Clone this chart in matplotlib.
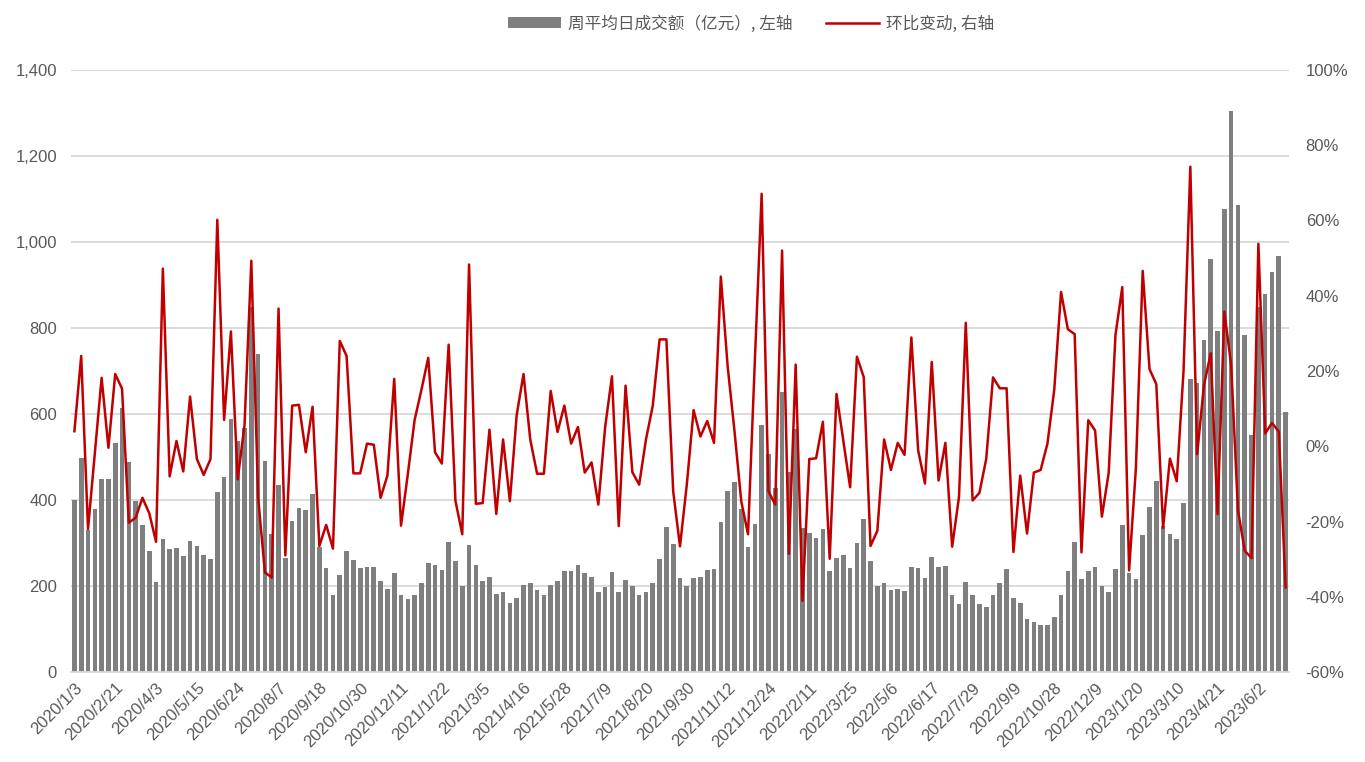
import numpy as np
import matplotlib
matplotlib.use("Agg")
import matplotlib.pyplot as plt
from matplotlib.patches import Patch
from matplotlib.lines import Line2D

plt.rcParams['font.family'] = ['Liberation Sans', 'Noto Sans CJK SC', 'DejaVu Sans']

# Weekly average daily turnover (100 million yuan), left axis
volume = [
    401, 497, 330, 379, 448, 448, 533, 613, 489, 397,
    342, 281, 210, 309, 287, 288, 270, 304, 292, 273,
    263, 419, 453, 588, 538, 568, 848, 740, 491, 321,
    436, 265, 352, 381, 376, 415, 290, 242, 178, 226,
    282, 261, 242, 244, 244, 211, 194, 230, 179, 169,
    180, 206, 254, 249, 237, 303, 259, 199, 295, 249,
    212, 222, 182, 187, 160, 171, 203, 206, 191, 178,
    203, 212, 234, 234, 249, 231, 222, 187, 198, 233,
    185, 215, 200, 179, 185, 206, 263, 338, 298, 219,
    199, 218, 222, 237, 240, 348, 422, 443, 379, 291,
    344, 574, 507, 427, 651, 465, 566, 336, 324, 312,
    332, 234, 266, 273, 242, 300, 355, 258, 200, 206,
    191, 193, 189, 244, 241, 219, 267, 244, 246, 179,
    157, 210, 179, 157, 152, 179, 208, 240, 173, 160,
    123, 116, 109, 109, 127, 178, 234, 302, 217, 234,
    245, 199, 185, 240, 341, 230, 217, 319, 384, 445,
    339, 320, 310, 393, 682, 671, 772, 961, 793, 1077,
    1304, 1086, 783, 551, 848, 878, 930, 967, 605,
]

# Week-on-week change (%), right axis
change = [
    4.0, 24.0, -22.0, -2.0, 18.2, -0.4, 19.2, 15.3, -20.3, -19.0,
    -13.7, -17.8, -25.4, 47.2, -8.0, 1.4, -6.7, 13.2, -3.4, -7.6,
    -3.4, 60.2, 7.0, 30.5, -8.8, 5.6, 49.3, -13.7, -33.5, -34.9,
    36.6, -29.0, 10.8, 11.0, -1.6, 10.5, -26.5, -20.9, -27.2, 28.0,
    24.0, -7.2, -7.2, 0.7, 0.4, -13.7, -7.8, 17.9, -21.1, -7.4,
    7.0, 15.0, 23.5, -1.6, -4.6, 27.0, -14.5, -23.4, 48.3, -15.3,
    -15.1, 4.4, -18.0, 1.8, -14.6, 8.3, 19.2, 1.7, -7.3, -7.3,
    14.7, 3.8, 10.8, 0.7, 5.1, -7.0, -4.3, -15.5, 5.1, 18.6,
    -21.2, 16.1, -6.9, -10.2, 1.8, 10.8, 28.4, 28.4, -12.0, -26.6,
    -10.2, 9.6, 2.6, 6.7, 0.9, 45.1, 21.3, 4.2, -14.6, -23.4,
    22.7, 67.1, -12.0, -15.5, 52.0, -28.6, 21.7, -41.1, -3.4, -3.2,
    6.5, -29.9, 13.9, 1.5, -10.9, 23.8, 18.4, -26.5, -22.5, 1.8,
    -6.3, 0.9, -2.3, 28.9, -1.1, -9.9, 22.4, -9.1, 0.9, -26.7,
    -13.5, 32.8, -14.4, -12.4, -3.4, 18.3, 15.4, 15.4, -28.1, -7.8,
    -23.2, -7.0, -6.3, 0.7, 15.0, 41.0, 31.1, 29.8, -28.2, 6.9,
    4.2, -18.7, -7.1, 29.6, 42.3, -33.0, -5.8, 46.6, 20.5, 16.5,
    -21.7, -3.3, -9.3, 20.0, 74.3, -2.1, 16.2, 24.7, -18.0, 35.8,
    21.6, -17.0, -27.8, -29.7, 53.8, 3.4, 6.2, 3.9, -37.5,
]

tick_labels = [
    '2020/1/3', '2020/2/21', '2020/4/3', '2020/5/15', '2020/6/24', '2020/8/7',
    '2020/9/18', '2020/10/30', '2020/12/11', '2021/1/22', '2021/3/5', '2021/4/16',
    '2021/5/28', '2021/7/9', '2021/8/20', '2021/9/30', '2021/11/12', '2021/12/24',
    '2022/2/11', '2022/3/25', '2022/5/6', '2022/6/17', '2022/7/29', '2022/9/9',
    '2022/10/28', '2022/12/9', '2023/1/20', '2023/3/10', '2023/4/21', '2023/6/2',
]
tick_step = 6

x = np.arange(len(volume))
gray_txt = '#595959'

fig = plt.figure(figsize=(13.65, 7.62), dpi=100)
ax = fig.add_axes([71/1365, 1-672/762, (1289-71)/1365, (672-70)/762])
ax2 = ax.twinx()

ax.bar(x, volume, width=0.68, color='#7f7f7f', zorder=2)
ax.set_xlim(-0.5, len(volume) - 0.5)
ax.set_ylim(0, 1400)
ax.set_yticks(np.arange(0, 1401, 200))
ax.set_yticklabels([f'{v:,}' for v in range(0, 1401, 200)])
ax.yaxis.grid(True, color='#d9d9d9', linewidth=1.3, zorder=0)
ax.set_axisbelow(True)

ax2.plot(x, change, color='#c00000', linewidth=1.8, zorder=3)
ax2.set_ylim(-60, 100)
ax2.set_yticks(np.arange(-60, 101, 20))
ax2.set_yticklabels([f'{v}%' for v in range(-60, 101, 20)])

ticks = x[::tick_step][:len(tick_labels)]
ax.set_xticks(ticks)
ax.set_xticklabels(tick_labels, rotation=45, ha='right', rotation_mode='anchor')

for a in (ax, ax2):
    for s in a.spines.values():
        s.set_visible(False)
    a.tick_params(length=0, labelsize=12, labelcolor=gray_txt)
ax.spines['bottom'].set_visible(True)
ax.spines['bottom'].set_color('#d9d9d9')
ax.spines['bottom'].set_linewidth(1.3)
ax.tick_params(axis='y', pad=10)
ax2.tick_params(axis='y', pad=12)
ax.tick_params(axis='x', pad=6)

handles = [Patch(facecolor='#7f7f7f', edgecolor='none'),
           Line2D([0], [0], color='#c00000', linewidth=1.8)]
labels = ['周平均日成交额（亿元）, 左轴', '环比变动, 右轴']
leg = fig.legend(handles, labels, loc='upper center', bbox_to_anchor=(0.55, 1.0),
                 ncol=2, frameon=False, fontsize=12, handlelength=3.2,
                 handleheight=0.6, columnspacing=2.0, handletextpad=0.4,
                 prop={'family': ['Noto Sans CJK SC', 'DejaVu Sans'], 'size': 12})
for t in leg.get_texts():
    t.set_color(gray_txt)

fig.savefig('out.png', dpi=100)
